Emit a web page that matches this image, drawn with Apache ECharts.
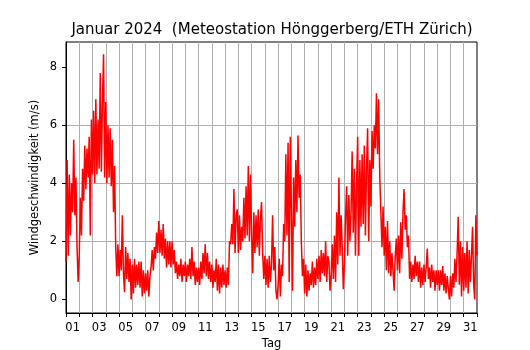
<!DOCTYPE html>
<html>
<head>
<meta charset="utf-8">
<title>Windgeschwindigkeit Januar 2024</title>
<script src="https://cdn.jsdelivr.net/npm/echarts@6/dist/echarts.min.js"></script>
<style>
    html, body { margin: 0; padding: 0; background: #fff; }
    #chart { width: 530px; height: 350px; }
</style>
</head>
<body>
<div id="chart"></div>
<script>
// tage (beschriftung in der mitte jedes tages)
const dayLabels = ['01', '02', '03', '04', '05', '06', '07', '08', '09', '10', '11', '12', '13', '14', '15', '16',
    '17', '18', '19', '20', '21', '22', '23', '24', '25', '26', '27', '28', '29', '30', '31']
const yTicks = [0, 2, 4, 6, 8]
const stepHours = 2 // abstand der werte in stunden

// windgeschwindigkeit in m/s, alle 2 stunden
const windSpeed = [
    1.3, 4.8, 1.5, 4.3, 2.2, 4.0, 3.0, 5.5, 2.9, 4.2, 1.8, 0.6,   // 01
    1.5, 3.5, 2.2, 4.5, 3.4, 5.3, 3.8, 5.2, 4.2, 5.6, 2.2, 6.2,   // 02
    4.3, 6.5, 4.0, 6.9, 4.3, 6.2, 4.5, 7.8, 4.4, 6.8, 8.45, 4.2,  // 03
    6.8, 4.0, 6.0, 4.2, 5.9, 3.9, 5.5, 3.0, 4.6, 1.8, 0.8, 1.9,   // 04
    0.8, 1.7, 1.0, 2.9, 0.9, 0.25, 1.8, 0.7, 1.6, 0.6, 1.4, 0.0,  // 05
    1.2, 0.2, 1.4, 0.4, 1.2, 0.5, 1.3, 0.4, 1.3, 0.1, 1.0, 0.2,   // 06
    0.9, 0.3, 1.0, 0.1, 0.8, 1.1, 1.7, 1.0, 1.8, 1.4, 2.3, 1.6,   // 07
    2.7, 1.6, 2.4, 1.5, 2.6, 1.4, 2.1, 1.1, 2.0, 1.2, 2.0, 1.1,   // 08
    2.0, 1.2, 1.7, 0.9, 1.3, 0.7, 1.2, 0.8, 1.4, 0.6, 1.2, 0.8,   // 09
    1.3, 0.6, 1.2, 0.8, 1.4, 0.7, 1.8, 0.8, 1.3, 0.5, 1.1, 0.6,   // 10
    1.1, 0.5, 1.3, 0.7, 1.6, 0.9, 1.9, 0.8, 1.6, 0.7, 1.3, 0.6,   // 11
    1.2, 0.4, 1.0, 0.6, 1.4, 0.3, 1.2, 0.2, 1.1, 0.4, 1.2, 0.5,   // 12
    1.0, 0.4, 1.1, 0.5, 2.0, 1.9, 2.6, 1.9, 3.8, 1.6, 2.9, 3.1,   // 13
    1.6, 2.9, 1.7, 2.5, 2.0, 3.5, 2.1, 3.9, 2.2, 4.6, 2.0, 4.3,   // 14
    2.2, 0.9, 3.0, 1.6, 2.9, 1.8, 3.1, 1.5, 2.8, 3.35, 1.6, 0.7,  // 15
    1.5, 0.5, 1.4, 0.4, 1.5, 0.6, 1.2, 2.9, 1.0, 1.8, 0.3, 0.0,   // 16
    0.5, 1.4, 0.1, 1.2, 0.8, 2.6, 2.0, 5.0, 2.2, 5.4, 0.6, 5.6,   // 17
    3.0, 0.3, 4.2, 2.5, 4.8, 3.0, 5.65, 3.5, 4.3, 2.0, 0.8, 1.4,  // 18
    0.2, 1.2, 0.1, 1.0, 0.3, 0.9, 0.5, 1.3, 0.4, 1.1, 0.5, 1.4,   // 19
    0.7, 1.5, 0.6, 1.7, 0.9, 1.6, 0.8, 2.0, 0.6, 1.5, 1.3, 0.3,   // 20
    0.8, 1.9, 0.7, 2.2, 0.6, 3.0, 1.2, 4.2, 1.5, 2.9, 1.8, 0.35,  // 21
    1.2, 2.8, 3.9, 1.5, 3.6, 2.0, 3.0, 5.1, 2.3, 4.5, 1.5, 4.0,   // 22
    5.6, 1.5, 4.8, 2.5, 5.0, 2.6, 5.3, 2.2, 4.5, 5.9, 2.0, 4.8,   // 23
    3.2, 5.8, 4.5, 6.0, 5.2, 7.1, 5.0, 6.9, 4.2, 3.0, 1.8, 3.2,   // 24
    1.5, 2.5, 1.0, 2.7, 0.9, 2.0, 0.8, 1.6, 1.0, 0.3, 1.5, 2.1,   // 25
    1.0, 2.2, 0.9, 2.66, 1.4, 3.0, 3.8, 2.4, 2.9, 1.8, 2.2, 0.7,  // 26
    1.3, 0.6, 1.2, 0.7, 1.5, 0.8, 1.3, 0.6, 1.3, 0.4, 1.1, 0.5,   // 27
    1.2, 0.6, 1.1, 1.75, 0.7, 1.1, 0.4, 1.2, 0.6, 1.0, 0.3, 1.0,  // 28
    0.5, 1.0, 0.3, 1.0, 0.5, 1.15, 0.3, 0.9, 0.2, 0.8, 0.4, 0.0,  // 29
    0.8, 0.1, 0.9, 0.4, 1.4, 0.6, 1.6, 2.85, 0.5, 2.0, 0.1, 1.8,  // 30
    0.3, 1.6, 0.4, 2.0, 0.2, 1.7, 0.6, 1.5, 2.5, 0.5, 0.0, 2.9,   // 31
    1.5
]

window.onload = function() {
    let chartDom = document.getElementById('chart')
    let myChart = echarts.init(chartDom, null, { renderer: 'canvas' })

    // zeit in tagen seit 1. januar 00:00
    let lineData = windSpeed.map((v, i) => [i * stepHours / 24, v])

    let font = 'DejaVu Sans'
    let option = {
        animation: false,
        backgroundColor: '#fff',
        title: {
            text: 'Januar 2024  (Meteostation Hönggerberg/ETH Zürich)',
            left: 267,
            top: 18,
            textAlign: 'center',
            textStyle: {
                fontFamily: font,
                fontSize: 15,
                fontWeight: 'normal',
                color: '#000'
            }
        },
        grid: {
            left: 66,
            right: 53,
            top: 42,
            bottom: 37,
            outerBoundsMode: 'none',
            show: true,
            borderColor: '#000',
            borderWidth: 1
        },
        xAxis: [{
            // nur fuer beschriftung, striche und gitter
            type: 'category',
            data: dayLabels,
            boundaryGap: true,
            name: 'Tag',
            nameLocation: 'middle',
            nameGap: 25,
            nameMoveOverlap: false,
            nameTextStyle: { fontFamily: font, fontSize: 11.5, color: '#000' },
            axisLine: { onZero: false, lineStyle: { color: '#000', width: 1 } },
            axisTick: { show: true, interval: 0, length: 4, lineStyle: { color: '#000' } },
            axisLabel: { interval: 1, margin: 9, fontFamily: font, fontSize: 11.5, color: '#000' },
            splitLine: {
                show: true,
                interval: 0,
                showMinLine: false,
                showMaxLine: false,
                lineStyle: { color: '#b0b0b0', width: 1 }
            }
        }, {
            type: 'value',
            min: 0,
            max: 31,
            show: false
        }],
        yAxis: {
            type: 'value',
            min: -0.47,
            max: 8.87,
            name: 'Windgeschwindigkeit (m/s)',
            nameLocation: 'middle',
            nameGap: 25,
            nameMoveOverlap: false,
            nameTextStyle: { fontFamily: font, fontSize: 11.5, color: '#000' },
            axisLine: { show: true, onZero: false, lineStyle: { color: '#000', width: 1 } },
            axisTick: { show: true, length: 4, customValues: yTicks, lineStyle: { color: '#000' } },
            axisLabel: { customValues: yTicks, margin: 9, fontFamily: font, fontSize: 11.5, color: '#000' },
            splitLine: {
                show: true,
                showMinLine: false,
                showMaxLine: false,
                lineStyle: { color: '#b0b0b0', width: 1 }
            }
        },
        series: [{
            type: 'line',
            xAxisIndex: 1,
            data: lineData,
            showSymbol: false,
            sampling: null,
            lineStyle: { color: '#ff0000', width: 1.5 },
            z: 3
        }]
    }
    option && myChart.setOption(option)
}
</script>
</body>
</html>
